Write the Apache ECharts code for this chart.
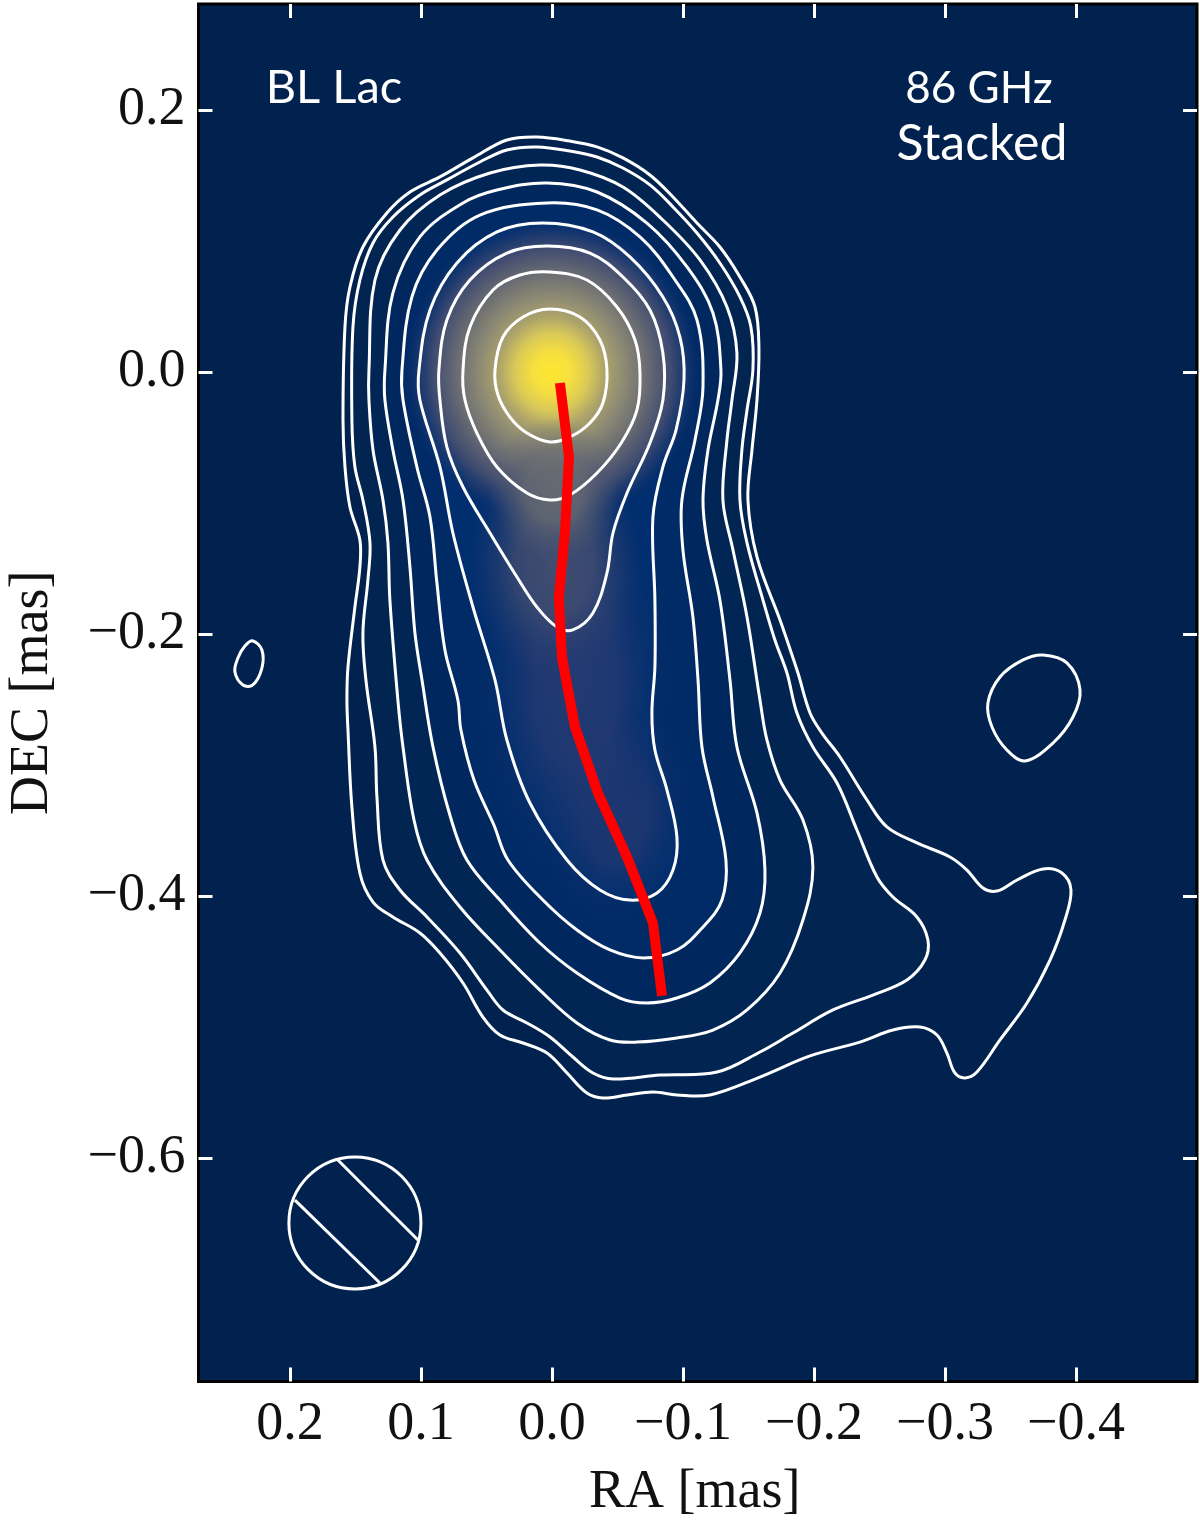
<!DOCTYPE html>
<html>
<head>
<meta charset="utf-8">
<style>html,body{margin:0;padding:0;background:#fff}#c{width:1200px;height:1522px}</style>
<script src="https://cdn.jsdelivr.net/npm/echarts@6/dist/echarts.min.js"></script>
</head>
<body>
<div id="c"></div>
<script>
// ---------- data (RA, DEC in mas) ----------
const xTicks = [0.2, 0.1, 0, -0.1, -0.2, -0.3, -0.4];
const yTicks = [0.2, 0, -0.2, -0.4, -0.6];
const contour1 = [[.0115,.1794],[-.0137,.1763],[-.0344,.1718],[-.0542,.1634],[-.0748,.1504],[-.0924,.1336],[-.1107,.1137],[-.1282,.0954],[-.1435,.0725],[-.1550,.0496],[-.1580,.0191],[-.1565,-.0214],[-.1527,-.0595],[-.1496,-.0977],[-.1565,-.1412],[-.1741,-.1893],[-.1794,-.2046],[-.1878,-.2298],[-.1970,-.2603],[-.2061,-.2756],[-.2199,-.2939],[-.2405,-.3267],[-.2557,-.3473],[-.2786,-.3595],[-.3038,-.3702],[-.3168,-.3802],[-.3290,-.3939],[-.3397,-.3962],[-.3550,-.3878],[-.3748,-.3794],[-.3893,-.3825],[-.3962,-.3954],[-.3916,-.4183],[-.3802,-.4489],[-.3626,-.4817],[-.3420,-.5099],[-.3244,-.5344],[-.3153,-.5389],[-.3076,-.5351],[-.3015,-.5199],[-.2939,-.5061],[-.2809,-.5000],[-.2603,-.5023],[-.2351,-.5115],[-.1970,-.5221],[-.1588,-.5382],[-.1206,-.5519],[-.0954,-.5519],[-.0771,-.5496],[-.0573,-.5519],[-.0389,-.5542],[-.0267,-.5504],[-.0115,-.5351],[.0038,-.5199],[.0221,-.5122],[.0397,-.5061],[.0527,-.4924],[.0679,-.4664],[.0855,-.4435],[.1008,-.4282],[.1214,-.4160],[.1366,-.4046],[.1466,-.3825],[.1527,-.3321],[.1557,-.2733],[.1565,-.2504],[.1557,-.2252],[.1504,-.1794],[.1466,-.1489],[.1466,-.1282],[.1542,-.1031],[.1580,-.0725],[.1595,-.0366],[.1580,.0344],[.1542,.0649],[.1443,.0954],[.1260,.1214],[.1084,.1374],[.0855,.1489],[.0603,.1634],[.0344,.1771]];
const contour2 = [[.0115,.1718],[-.0137,.1687],[-.0344,.1641],[-.0542,.1557],[-.0748,.1428],[-.0924,.1260],[-.1107,.1061],[-.1282,.0832],[-.1435,.0573],[-.1519,.0344],[-.1534,.0015],[-.1489,-.0290],[-.1450,-.0595],[-.1435,-.0977],[-.1489,-.1305],[-.1611,-.1741],[-.1702,-.2046],[-.1794,-.2298],[-.1870,-.2603],[-.1992,-.2863],[-.2176,-.3138],[-.2328,-.3496],[-.2481,-.3855],[-.2603,-.4008],[-.2786,-.4160],[-.2870,-.4336],[-.2847,-.4489],[-.2710,-.4641],[-.2450,-.4756],[-.2145,-.4870],[-.1840,-.5046],[-.1588,-.5191],[-.1260,-.5344],[-.0824,-.5367],[-.0466,-.5397],[-.0313,-.5351],[-.0160,-.5229],[.0015,-.5076],[.0191,-.4969],[.0374,-.4870],[.0496,-.4718],[.0702,-.4435],[.0954,-.4160],[.1160,-.3954],[.1290,-.3725],[.1336,-.3244],[.1351,-.2863],[.1420,-.2351],[.1443,-.1992],[.1405,-.1588],[.1389,-.1305],[.1443,-.0977],[.1504,-.0725],[.1527,-.0366],[.1519,.0344],[.1466,.0702],[.1366,.0985],[.1214,.1183],[.1008,.1351],[.0802,.1466],[.0550,.1603],[.0344,.1695]];
const contour3 = [[.0092,.1580],[-.0214,.1542],[-.0542,.1412],[-.0847,.1160],[-.1130,.0855],[-.1336,.0496],[-.1412,.0145],[-.1374,-.0214],[-.1336,-.0519],[-.1305,-.0977],[-.1382,-.1359],[-.1489,-.1870],[-.1588,-.2504],[-.1641,-.2809],[-.1741,-.3115],[-.1916,-.3420],[-.1992,-.3779],[-.1916,-.4183],[-.1741,-.4588],[-.1489,-.4870],[-.1229,-.5023],[-.0954,-.5084],[-.0649,-.5115],[-.0443,-.5099],[-.0191,-.4969],[.0092,-.4718],[.0397,-.4412],[.0702,-.4084],[.0954,-.3725],[.1053,-.3420],[.1137,-.2863],[.1176,-.2504],[.1237,-.1741],[.1252,-.1305],[.1290,-.0977],[.1366,-.0595],[.1397,-.0214],[.1397,.0015],[.1351,.0702],[.1160,.1084],[.0855,.1351],[.0473,.1519]];
const contour4 = [[.0038,.1443],[-.0344,.1374],[-.0725,.1137],[-.1031,.0802],[-.1229,.0450],[-.1290,.0015],[-.1267,-.0214],[-.1191,-.0595],[-.1153,-.0977],[-.1183,-.1282],[-.1282,-.1741],[-.1359,-.2351],[-.1412,-.2863],[-.1565,-.3366],[-.1626,-.3802],[-.1588,-.4130],[-.1435,-.4435],[-.1206,-.4664],[-.0954,-.4779],[-.0725,-.4817],[-.0519,-.4779],[-.0191,-.4588],[.0092,-.4359],[.0397,-.4031],[.0649,-.3725],[.0779,-.3382],[.0908,-.2863],[.0992,-.2351],[.1046,-.1992],[.1084,-.1489],[.1137,-.0977],[.1214,-.0595],[.1275,-.0214],[.1275,.0015],[.1214,.0603],[.1008,.1031],[.0679,.1290],[.0420,.1389]];
const contour5 = [[.0038,.1290],[-.0344,.1237],[-.0672,.1031],[-.0924,.0725],[-.1107,.0397],[-.1153,-.0115],[-.1092,-.0519],[-.0992,-.0977],[-.1000,-.1359],[-.1076,-.1870],[-.1115,-.2351],[-.1145,-.2863],[-.1229,-.3244],[-.1328,-.3725],[-.1298,-.4031],[-.1153,-.4237],[-.0954,-.4412],[-.0697,-.4473],[-.0443,-.4412],[-.0191,-.4260],[.0069,-.4031],[.0336,-.3725],[.0443,-.3458],[.0595,-.3115],[.0695,-.2733],[.0718,-.2504],[.0817,-.2122],[.0878,-.1611],[.0931,-.1107],[.1031,-.0725],[.1137,-.0214],[.1145,.0015],[.1069,.0573],[.0878,.0931],[.0550,.1198]];
const contour6 = [[.0069,.1137],[-.0313,.1069],[-.0595,.0878],[-.0847,.0573],[-.0977,.0267],[-.1008,-.0061],[-.0947,-.0443],[-.0847,-.0725],[-.0771,-.1107],[-.0786,-.1741],[-.0786,-.2252],[-.0763,-.2603],[-.0786,-.2886],[-.0878,-.3191],[-.0954,-.3550],[-.0924,-.3802],[-.0802,-.3977],[-.0595,-.4031],[-.0366,-.3954],[-.0115,-.3725],[.0168,-.3290],[.0344,-.2809],[.0435,-.2351],[.0603,-.1794],[.0756,-.1229],[.0855,-.0725],[.1008,-.0214],[.1015,.0015],[.0931,.0473],[.0725,.0832],[.0420,.1069]];
const contour7 = [[.0038,.0962],[-.0290,.0908],[-.0542,.0725],[-.0748,.0473],[-.0847,.0145],[-.0847,-.0214],[-.0748,-.0542],[-.0573,-.0924],[-.0466,-.1229],[-.0420,-.1534],[-.0313,-.1840],[-.0160,-.1969],[-.0038,-.1947],[.0115,-.1794],[.0267,-.1565],[.0473,-.1229],[.0679,-.0878],[.0802,-.0573],[.0855,-.0214],[.0863,.0015],[.0802,.0397],[.0626,.0702],[.0344,.0908]];
const contour8 = [[.0015,.0763],[-.0267,.0702],[-.0496,.0496],[-.0634,.0244],[-.0672,-.0008],[-.0649,-.0290],[-.0530,-.0540],[-.0344,-.0771],[-.0137,-.0939],[.0015,-.0977],[.0191,-.0924],[.0420,-.0725],[.0573,-.0466],[.0664,-.0214],[.0679,.0015],[.0626,.0344],[.0450,.0626],[.0244,.0740]];
const contour9 = [[.0015,.0481],[-.0214,.0420],[-.0366,.0244],[-.0420,.0015],[-.0389,-.0237],[-.0290,-.0389],[-.0137,-.0496],[.0015,-.0534],[.0191,-.0466],[.0321,-.0344],[.0412,-.0176],[.0435,.0015],[.0374,.0267],[.0221,.0420]];
const islandLeft = [[.2283,-.2053],[.2214,-.2122],[.2214,-.2260],[.2283,-.2389],[.2359,-.2389],[.2420,-.2290],[.2397,-.2183],[.2344,-.2092]];
const islandRight = [[-.3748,-.2160],[-.3931,-.2221],[-.4031,-.2427],[-.3977,-.2634],[-.3825,-.2832],[-.3611,-.2969],[-.3473,-.2886],[-.3359,-.2710],[-.3328,-.2527],[-.3420,-.2328],[-.3596,-.2198]];
const ridgeLine = [[-.0061,-.0084],[-.0130,-.0649],[-.0099,-.1229],[-.0053,-.1718],[-.0076,-.2176],[-.0176,-.2710],[-.0351,-.3214],[-.0573,-.3702],[-.0771,-.4206],[-.0840,-.4763]];
const beamCentre = [0.1504, -0.6496];
const beamRadius = 0.0504;
const beamHatchA = [[.1634,-.6015],[.1023,-.6626]];
const beamHatchB = [[.1962,-.6321],[.1313,-.6954]];
const noteTexts = ['BL Lac', '86 GHz', 'Stacked'];
const notePlaces = [[.1664,.2170],[-.3260,.2160],[-.3282,.1742]];
// intensity glow: centre RA, centre DEC, half-width RA, half-height DEC
const glowJetLow = [-.0481,-.3344,.058,.085];
const glowJetMid = [-.0176,-.2351,.072,.150];
const glowJetUpper = [-.0023,-.1450,.066,.090];
const glowJetTop = [-.0023,-.0900,.050,.055];
const glowCore   = [0,0,.1125,.1175];

// ---------- styles ----------
const SERIF = '"Liberation Serif","DejaVu Serif",serif';
const SANS = 'Lato,"Open Sans",sans-serif';
const BG = '#01224e';
const noteSizes = [47,44,50];
const bandFills = [
  [contour2,'#012450'],[contour3,'#012656'],[contour4,'#01285e'],
  [contour5,'#012b66'],[contour6,'#012e6e']
];
const contours = [contour1,contour2,contour3,contour4,contour5,contour6,contour7,contour8,contour9,islandLeft,islandRight];
const coreStops = [
  {offset:0,color:'rgba(254,231,48,1)'},{offset:.13,color:'rgba(246,223,62,1)'},
  {offset:.25,color:'rgba(217,201,87,1)'},{offset:.36,color:'rgba(173,164,106,1)'},
  {offset:.50,color:'rgba(139,136,116,1)'},{offset:.64,color:'rgba(107,109,114,1)'},
  {offset:.81,color:'rgba(65,76,112,.97)'},{offset:.93,color:'rgba(23,54,111,.7)'},
  {offset:1,color:'rgba(10,48,112,0)'}
];
const glows = [
  [glowJetLow,'rgba(34,56,112,.95)','rgba(10,48,112,0)'],
  [glowJetMid,'rgba(36,58,114,1)','rgba(10,48,112,0)']
];
const glowsAbove = [
  [glowJetUpper,'rgba(68,78,112,.95)','rgba(40,60,112,0)'],
  [glowJetTop,'rgba(108,110,114,.85)','rgba(80,88,112,0)']
];
const SMOOTH = 0.36;

const series = [];
const closedShape=(pts,style,z)=>({type:'custom',coordinateSystem:'cartesian2d',silent:true,clip:false,z,
  encode:{x:0,y:1},data:pts,
  renderItem:(p,api)=>{
    if(p.dataIndex!==0) return null;
    return {type:'polygon',shape:{points:pts.map(q=>api.coord(q)),smooth:SMOOTH},style};
  }});
// flat band fills: their edges sit under the contour lines
bandFills.forEach(([pts,col],i)=>series.push(closedShape(pts,{fill:col,stroke:null},2+i*0.01)));
// glows
const glowSeries=(g,stops)=>({type:'custom',coordinateSystem:'cartesian2d',silent:true,clip:false,z:3,
  encode:{x:0,y:1},data:[g],
  renderItem:(p,api)=>{
    const c=api.coord([api.value(0),api.value(1)]);
    const s=api.size([api.value(2),api.value(3)]);
    return {type:'circle',x:c[0],y:c[1],scaleY:s[1]/s[0],shape:{cx:0,cy:0,r:s[0]},
      style:{fill:{type:'radial',x:.5,y:.5,r:.5,colorStops:stops},stroke:null}};
  }});
const softStops=(a,b)=>[{offset:0,color:a},{offset:.45,color:a.replace(/[\d.]+\)$/,m=>(parseFloat(m)*.8)+')')},{offset:1,color:b}];
glows.forEach(([g,a,b])=>series.push(glowSeries(g,softStops(a,b))));
series.push(glowSeries(glowCore,coreStops));
glowsAbove.forEach(([g,a,b])=>series.push(glowSeries(g,softStops(a,b))));
// contour lines
contours.forEach(c=>series.push(closedShape(c,{fill:null,stroke:'#fff',lineWidth:3},4)));
// ridge line
series.push({type:'line',data:ridgeLine,symbol:'none',z:5,silent:true,
  lineStyle:{color:'#ff0000',width:10,cap:'butt',join:'miter'}});
// beam
series.push({type:'custom',coordinateSystem:'cartesian2d',silent:true,z:4,encode:{x:0,y:1},data:[[beamCentre[0],beamCentre[1],beamRadius]],
  renderItem:(p,api)=>{
    const c=api.coord([api.value(0),api.value(1)]);
    const s=api.size([api.value(2),api.value(2)]);
    return {type:'circle',shape:{cx:c[0],cy:c[1],r:s[0]},style:{fill:null,stroke:'#fff',lineWidth:3}};
  }});
[beamHatchA,beamHatchB].forEach(h=>series.push({type:'line',data:h,symbol:'none',z:4,silent:true,lineStyle:{color:'#fff',width:3}}));
// annotations
series.push({type:'scatter',symbolSize:1,z:6,silent:true,itemStyle:{color:'transparent',opacity:1},
  data:notePlaces.map((v,i)=>({value:v,label:{fontSize:noteSizes[i]}})),
  label:{show:true,position:'inside',color:'#fff',fontFamily:SANS,fontWeight:400,
    formatter:p=>noteTexts[p.dataIndex]}});

const fmt = v => { const s=Math.abs(v).toFixed(1); return v<0 ? '\u2212'+s : s; };
const tick = {show:true,inside:true,length:14,lineStyle:{color:'#fff',width:3}};
const X = {min:-0.4924,max:0.2698,inverse:true,type:'value',splitLine:{show:false},axisLine:{show:false,onZero:false}};
const Y = {min:-0.7706,max:0.2809,type:'value',splitLine:{show:false},axisLine:{show:false,onZero:false}};
const option = {
  animation:false,
  backgroundColor:'#fff',
  grid:{left:198.5,top:4,width:998.5,height:1377.5,show:true,backgroundColor:BG,borderColor:'#000',borderWidth:3,outerBoundsMode:'none',containLabel:false},
  xAxis:[
    Object.assign({},X,{position:'bottom',name:'RA [mas]',nameLocation:'middle',nameGap:84,
      nameTextStyle:{fontFamily:SERIF,fontSize:54,color:'#111',padding:[0,6,0,0]},
      axisTick:Object.assign({},tick,{customValues:xTicks}),
      axisLabel:{customValues:xTicks,formatter:fmt,margin:16,fontFamily:SERIF,fontSize:54,color:'#111',showMinLabel:true,showMaxLabel:true,hideOverlap:false}}),
    Object.assign({},X,{position:'top',axisTick:Object.assign({},tick,{customValues:xTicks}),axisLabel:{show:false}})
  ],
  yAxis:[
    Object.assign({},Y,{position:'left',name:'DEC [mas]',nameLocation:'middle',nameGap:139,nameRotate:90,
      nameTextStyle:{fontFamily:SERIF,fontSize:54,color:'#111'},
      axisTick:Object.assign({},tick,{customValues:yTicks}),
      axisLabel:{customValues:yTicks,formatter:fmt,margin:13,fontFamily:SERIF,fontSize:54,color:'#111'}}),
    Object.assign({},Y,{position:'right',axisTick:Object.assign({},tick,{customValues:yTicks}),axisLabel:{show:false}})
  ],
  series
};
const chart = echarts.init(document.getElementById('c'),null,{renderer:'canvas'});
chart.setOption(option);
</script>
</body>
</html>
